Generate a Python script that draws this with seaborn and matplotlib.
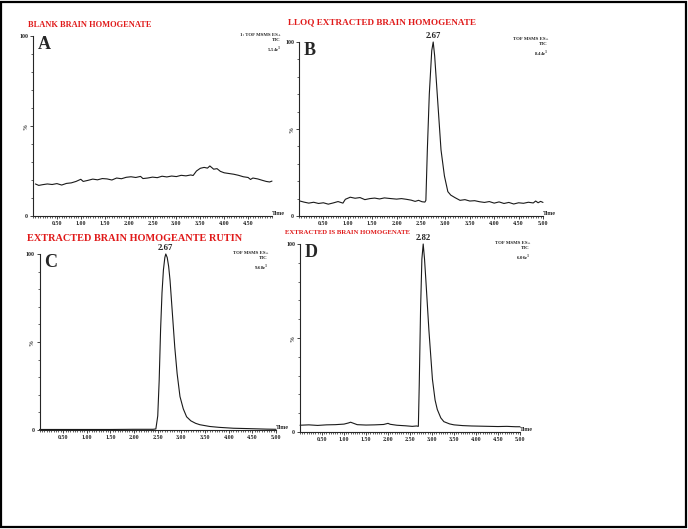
import matplotlib
matplotlib.use("Agg")
import matplotlib.pyplot as plt
import matplotlib.ticker as ticker
from matplotlib.patches import Rectangle
import pandas as pd
import seaborn as sns

# chromatogram traces (time in min, relative intensity %)
a_time = [0.05, 0.12, 0.2, 0.3, 0.4, 0.5, 0.6, 0.7, 0.8, 0.9, 1.0, 1.05, 1.15, 1.25, 1.35,
          1.45, 1.55, 1.65, 1.75, 1.85, 1.95, 2.05, 2.15, 2.25, 2.3, 2.4, 2.5, 2.6, 2.7,
          2.8, 2.9, 3.0, 3.1, 3.2, 3.3, 3.35, 3.42, 3.5, 3.58, 3.65, 3.7, 3.78, 3.85, 3.92,
          4.0, 4.1, 4.2, 4.3, 4.4, 4.5, 4.55, 4.6, 4.7, 4.8, 4.88, 4.95, 5.0]
a_int = [17.8, 17.0, 17.4, 17.8, 17.5, 18.0, 17.2, 18.1, 18.4, 19.2, 20.4, 19.2, 19.8, 20.5, 20.1,
         20.8, 20.6, 20.0, 21.1, 20.7, 21.5, 21.8, 21.4, 22.0, 20.8, 21.1, 21.6, 21.3, 22.1,
         21.7, 22.2, 21.9, 22.6, 22.3, 22.8, 22.5, 25.0, 26.5, 27.0, 26.6, 27.8, 26.0, 26.3, 24.8,
         24.0, 23.6, 23.2, 22.6, 21.8, 21.4, 20.3, 21.1, 20.6, 19.8, 19.2, 18.9, 19.4]

b_time = [0.02, 0.1, 0.2, 0.3, 0.4, 0.5, 0.6, 0.7, 0.8, 0.9, 0.95, 1.05, 1.15, 1.25, 1.35,
          1.45, 1.55, 1.65, 1.75, 1.85, 2.0, 2.1, 2.2, 2.3, 2.38, 2.45, 2.52, 2.58, 2.6,
          2.63, 2.67, 2.72, 2.75, 2.78, 2.84, 2.91, 2.98, 3.05, 3.11, 3.2, 3.3, 3.4, 3.5,
          3.6, 3.7, 3.8, 3.9, 4.0, 4.1, 4.2, 4.3, 4.4, 4.5, 4.6, 4.7, 4.8, 4.85, 4.9, 4.95, 5.0]
b_int = [8.6, 8.0, 7.4, 7.9, 7.2, 7.6, 6.8, 7.5, 8.3, 7.4, 9.6, 10.8, 10.2, 10.6, 9.4,
         10.0, 10.3, 9.8, 10.4, 10.1, 9.7, 10.0, 9.6, 9.1, 8.4, 9.0, 8.2, 8.0, 9.0,
         38.0, 70.0, 95.0, 100.0, 92.0, 67.0, 38.0, 23.0, 14.0, 12.0, 10.5, 9.0, 9.4, 8.6,
         8.8, 8.2, 7.8, 8.3, 7.4, 8.1, 7.2, 7.8, 6.9, 7.6, 7.3, 7.9, 7.5, 8.6, 7.6, 8.4, 7.8]

c_time = [0.0, 0.5, 1.0, 1.5, 2.0, 2.4, 2.46, 2.5, 2.53, 2.56, 2.59, 2.62, 2.65, 2.67, 2.7,
          2.73, 2.76, 2.81, 2.86, 2.91, 2.97, 3.04, 3.11, 3.2, 3.3, 3.39, 3.6, 3.8, 4.1,
          4.4, 4.8, 5.0]
c_int = [0.3, 0.3, 0.3, 0.3, 0.4, 0.4, 0.6, 8.0, 28.0, 57.0, 78.0, 91.0, 98.0, 100.0, 98.0,
         93.0, 85.0, 66.0, 47.0, 32.0, 19.0, 12.0, 7.5, 5.2, 3.8, 3.0, 2.0, 1.5, 1.0,
         0.8, 0.5, 0.4]

d_time = [0.0, 0.2, 0.4, 0.6, 0.8, 1.0, 1.1, 1.15, 1.22, 1.3, 1.5, 1.7, 1.9, 2.0, 2.05,
          2.2, 2.4, 2.55, 2.65, 2.69, 2.71, 2.74, 2.77, 2.8, 2.83, 2.86, 2.93, 3.01, 3.07,
          3.12, 3.2, 3.27, 3.4, 3.5, 3.7, 3.9, 4.1, 4.3, 4.5, 4.7, 4.9, 5.0]
d_int = [3.6, 3.8, 3.5, 3.8, 3.9, 4.2, 4.8, 5.2, 4.6, 3.9, 3.7, 3.8, 4.0, 4.6, 4.1,
         3.6, 3.3, 3.0, 3.2, 3.0, 25.0, 65.0, 92.0, 100.0, 92.0, 81.0, 54.0, 28.0, 17.0,
         12.0, 7.5, 5.5, 4.3, 3.8, 3.4, 3.2, 3.1, 3.0, 2.9, 3.0, 2.8, 2.8]

titles = ["BLANK BRAIN HOMOGENATE", "LLOQ EXTRACTED BRAIN HOMOGENATE",
          "EXTRACTED BRAIN HOMOGEANTE RUTIN", "EXTRACTED IS BRAIN HOMOGENATE"]
letters = ["A", "B", "C", "D"]
info = ["1: TOF MSMS ES+\nTIC\n5.54e$^3$", "TOF MSMS ES+\nTIC\n8.44e$^3$",
        "TOF MSMS ES+\nTIC\n9.68e$^3$", "TOF MSMS ES+\nTIC\n6.06e$^3$"]
peak_labels = [None, "2.67", "2.67", "2.82"]
a_ticks = [0.5, 1.0, 1.5, 2.0, 2.5, 3.0, 3.5, 4.0, 4.5]
full_ticks = [0.5, 1.0, 1.5, 2.0, 2.5, 3.0, 3.5, 4.0, 4.5, 5.0]

W, H = 688, 529
RED = "#e01a1a"


def px(x, y):
    return x / W, 1 - y / H


def draw(ax, data, xticks, letter, peak_label):
    sns.lineplot(x="time", y="intensity", data=data, ax=ax, color="#1a1a1a",
                 linewidth=0.8, clip_on=False)
    ax.set_xlim(0, 5)
    ax.set_ylim(0, 100)
    ax.set_xlabel("")
    ax.set_ylabel("")
    for s in ["top", "right"]:
        ax.spines[s].set_visible(False)
    for s in ["left", "bottom"]:
        ax.spines[s].set_linewidth(0.8)
    ax.set_xticks(xticks)
    ax.set_xticklabels(["%.2f" % t for t in xticks])
    ax.xaxis.set_minor_locator(ticker.MultipleLocator(0.05))
    ax.set_yticks([0, 50, 100])
    ax.set_yticklabels(["0", "%", "100"])
    ax.get_yticklabels()[1].set_rotation(90)
    ax.yaxis.set_minor_locator(ticker.MultipleLocator(10))
    ax.tick_params(axis="both", which="major", labelsize=4.3, length=2, width=0.6, pad=1.5)
    ax.tick_params(axis="both", which="minor", length=1.2, width=0.5)
    ax.text(1.0, 0.0, "Time", transform=ax.transAxes, fontsize=4.3, ha="left", va="bottom")
    ax.text(0.02, 1.0, letter, transform=ax.transAxes, fontsize=13, fontweight="bold",
            ha="left", va="top")
    if peak_label:
        i = data["intensity"].idxmax()
        ax.annotate(peak_label, (data["time"][i], data["intensity"][i]),
                    xytext=(0, 1.5), textcoords="offset points", ha="center",
                    va="bottom", fontsize=6.3, fontweight="bold")


sns.set_style("ticks")
plt.rcParams["font.family"] = ["Liberation Serif", "DejaVu Serif"]
plt.rcParams["font.weight"] = "bold"
plt.rcParams["mathtext.fontset"] = "custom"
plt.rcParams["mathtext.rm"] = "Liberation Serif:bold"

fig = plt.figure(figsize=(6.88, 5.29), dpi=100)

frames = [pd.DataFrame({"time": a_time, "intensity": a_int}),
          pd.DataFrame({"time": b_time, "intensity": b_int}),
          pd.DataFrame({"time": c_time, "intensity": c_int}),
          pd.DataFrame({"time": d_time, "intensity": d_int})]

# axes boxes in pixels: x0, y(0%), x(5.00), y(100%)
boxes = [(33, 216, 272, 36), (299, 216, 543, 42), (39.5, 430, 276, 254), (300, 432, 520, 244)]
title_pos = [(28, 25, 6.0), (288, 22, 6.6), (27, 238, 7.4), (285, 233, 4.9)]
info_pos = [(281, 33), (548, 37), (268, 251), (530, 241)]

for k in range(4):
    x0, y0, x1, y1 = boxes[k]
    l, b = px(x0, y0)
    ax = fig.add_axes([l, b, (x1 - x0) / W, (y0 - y1) / H])
    draw(ax, frames[k], a_ticks if k == 0 else full_ticks, letters[k], peak_labels[k])
    tx, ty, fs = title_pos[k]
    fig.text(*px(tx, ty), titles[k], color=RED, fontsize=fs, fontweight="bold",
             ha="left", va="center")
    ix, iy = info_pos[k]
    fig.text(*px(ix, iy), info[k], fontsize=3.5, fontweight="bold", ha="right",
             va="top", multialignment="right", linespacing=1.25)

fig.patches.append(Rectangle((0.002, 0.003), 0.995, 0.994, transform=fig.transFigure,
                             fill=False, edgecolor="black", linewidth=1.6))

fig.savefig("out.png", dpi=100)
